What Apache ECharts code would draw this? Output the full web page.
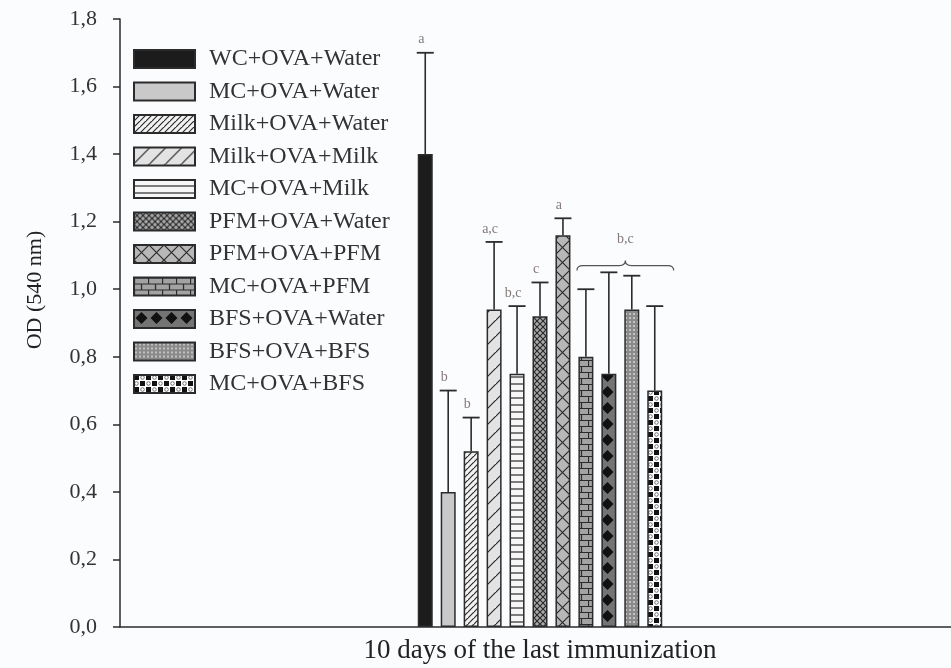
<!DOCTYPE html>
<html>

<head>
    <meta charset="utf-8">
    <title>OD 540 nm</title>
    <script src="https://cdn.jsdelivr.net/npm/echarts@6/dist/echarts.min.js"></script>
    <style>
        body { margin: 0; background: #fbfcfe; }
        #chart { width: 951px; height: 668px; }
    </style>
</head>

<body>
    <div id="chart"></div>

    <script type="text/javascript">
        // data
        var category = ['10 days of the last immunization'];
        var groups = ['WC+OVA+Water', 'MC+OVA+Water', 'Milk+OVA+Water', 'Milk+OVA+Milk', 'MC+OVA+Milk',
            'PFM+OVA+Water', 'PFM+OVA+PFM', 'MC+OVA+PFM', 'BFS+OVA+Water', 'BFS+OVA+BFS', 'MC+OVA+BFS'];
        var means = [1.40, 0.40, 0.52, 0.94, 0.75, 0.92, 1.16, 0.80, 0.75, 0.94, 0.70];
        var errTops = [1.70, 0.70, 0.62, 1.14, 0.95, 1.02, 1.21, 1.00, 1.05, 1.04, 0.95];
        var letters = ['a', 'b', 'b', 'a,c', 'b,c', 'c', 'a', '', '', '', ''];
        var brace = { from: 7, to: 10, value: 1.07, label: 'b,c' };
        var yTicks = { min: 0, max: 1.8, step: 0.2 };

        var BAR_W = 15;
        var GAP = 0.53;
        var PITCH = BAR_W * (1 + GAP);
        var SERIF = 'Liberation Serif';
        var INK = '#2b2b2b';
        var NOTE = '#857a7a';

        function tile(w, h, bg, draw) {
            var c = document.createElement('canvas');
            c.width = w; c.height = h;
            var ctx = c.getContext('2d');
            ctx.fillStyle = bg;
            ctx.fillRect(0, 0, w, h);
            ctx.strokeStyle = INK;
            ctx.fillStyle = INK;
            ctx.lineWidth = 1.2;
            if (draw) draw(ctx, w, h);
            return { image: c, repeat: 'repeat' };
        }

        function diag(ctx, w, h) {
            ctx.beginPath();
            ctx.moveTo(-1, h + 1); ctx.lineTo(w + 1, -1);
            ctx.moveTo(-w - 1, h + 1); ctx.lineTo(1, -1);
            ctx.moveTo(w - 1, 2 * h + 1); ctx.lineTo(2 * w + 1, h - 1);
            ctx.stroke();
        }
        function cross(ctx, w, h) {
            diag(ctx, w, h);
            ctx.beginPath();
            ctx.moveTo(-1, -1); ctx.lineTo(w + 1, h + 1);
            ctx.moveTo(-w - 1, -1); ctx.lineTo(1, h + 1);
            ctx.moveTo(w - 1, -1); ctx.lineTo(2 * w, h);
            ctx.stroke();
        }

        var fills = [
            '#1c1c1c',
            '#c9c9c9',
            tile(6, 6, '#f2f2f2', diag),
            tile(16, 16, '#e3e3e3', diag),
            tile(4, 7, '#f6f6f6', function (ctx) {
                ctx.beginPath(); ctx.moveTo(0, 6); ctx.lineTo(4, 6); ctx.stroke();
            }),
            tile(6, 6, '#a9a9a9', cross),
            tile(15, 15, '#b7b7b7', cross),
            tile(14, 12, '#a3a3a3', function (ctx) {
                ctx.beginPath();
                ctx.moveTo(0, 0.5); ctx.lineTo(14, 0.5);
                ctx.moveTo(0, 6.5); ctx.lineTo(14, 6.5);
                ctx.moveTo(0.5, 0); ctx.lineTo(0.5, 6);
                ctx.moveTo(7.5, 6); ctx.lineTo(7.5, 12);
                ctx.stroke();
            }),
            tile(15, 16, '#747474', function (ctx) {
                ctx.fillStyle = '#111';
                ctx.beginPath();
                ctx.moveTo(7.5, 2); ctx.lineTo(13.5, 8); ctx.lineTo(7.5, 14); ctx.lineTo(1.5, 8);
                ctx.closePath(); ctx.fill();
            }),
            tile(4, 4, '#8a8a8a', function (ctx) {
                ctx.fillStyle = '#cfcfcf';
                ctx.beginPath(); ctx.arc(2, 2, 1.1, 0, Math.PI * 2); ctx.fill();
            }),
            tile(12, 12, '#ffffff', function (ctx) {
                ctx.fillStyle = '#111';
                ctx.fillRect(0, 0, 5, 5);
                ctx.fillRect(6, 6, 5, 5);
                ctx.strokeStyle = '#555';
                ctx.lineWidth = 0.8;
                ctx.beginPath(); ctx.arc(8.5, 2.5, 1.8, 0, Math.PI * 2); ctx.stroke();
                ctx.beginPath(); ctx.arc(2.5, 8.5, 1.8, 0, Math.PI * 2); ctx.stroke();
            })
        ];

        var series = groups.map(function (name, i) {
            return {
                name: name,
                type: 'bar',
                data: [means[i]],
                barWidth: BAR_W,
                barGap: (GAP * 100) + '%',
                itemStyle: { color: fills[i], borderColor: INK, borderWidth: 1.5 },
                emphasis: { disabled: true },
                z: 2
            };
        });

        // error bars + letters
        series.push({
            type: 'custom',
            name: 'err',
            z: 3,
            data: groups.map(function (g, i) { return [0, means[i], errTops[i], i]; }),
            renderItem: function (params, api) {
                var i = api.value(3);
                var base = api.coord([0, api.value(1)]);
                var top = api.coord([0, api.value(2)]);
                var x = base[0] + (i - (groups.length - 1) / 2) * PITCH;
                var kids = [
                    { type: 'line', shape: { x1: x, y1: base[1], x2: x, y2: top[1] }, style: { stroke: INK, lineWidth: 1.6 } },
                    { type: 'line', shape: { x1: x - 8.5, y1: top[1], x2: x + 8.5, y2: top[1] }, style: { stroke: INK, lineWidth: 1.8 } }
                ];
                if (letters[i]) {
                    kids.push({
                        type: 'text',
                        style: {
                            text: letters[i], x: x - 4, y: top[1] - 6,
                            align: 'center', verticalAlign: 'bottom',
                            font: '14px "Liberation Serif"', fill: NOTE
                        }
                    });
                }
                return { type: 'group', children: kids };
            }
        });

        // brace over the last four groups
        series.push({
            type: 'custom',
            name: 'brace',
            z: 3,
            data: [[0, brace.value]],
            renderItem: function (params, api) {
                var p = api.coord([0, api.value(1)]);
                var mid0 = (groups.length - 1) / 2;
                var x1 = p[0] + (brace.from - mid0) * PITCH - 9;
                var x2 = p[0] + (brace.to - mid0) * PITCH + 19;
                var xm = (x1 + x2) / 2;
                var y = p[1];
                var path = 'M' + x1 + ',' + (y + 5) + ' Q' + x1 + ',' + y + ' ' + (x1 + 6) + ',' + y +
                    ' L' + (xm - 6) + ',' + y + ' Q' + xm + ',' + y + ' ' + xm + ',' + (y - 5) +
                    ' Q' + xm + ',' + y + ' ' + (xm + 6) + ',' + y +
                    ' L' + (x2 - 6) + ',' + y + ' Q' + x2 + ',' + y + ' ' + x2 + ',' + (y + 5);
                return {
                    type: 'group',
                    children: [
                        { type: 'path', shape: { pathData: path }, style: { stroke: '#555', lineWidth: 1.2, fill: null } },
                        {
                            type: 'text',
                            style: {
                                text: brace.label, x: xm, y: y - 26, align: 'center', verticalAlign: 'middle',
                                font: '14px "Liberation Serif"', fill: NOTE
                            }
                        }
                    ]
                };
            }
        });

        var myChart = echarts.init(document.getElementById('chart'), null, { renderer: 'canvas' });
        myChart.setOption({
            backgroundColor: '#fbfcfe',
            animation: false,
            grid: { left: 120, width: 840, top: 19, bottom: 41, outerBoundsMode: 'none' },
            legend: {
                data: groups,
                orient: 'vertical',
                left: 133,
                top: 47,
                padding: 0,
                icon: 'rect',
                itemWidth: 61,
                itemHeight: 18,
                itemGap: 8.5,
                selectedMode: false,
                textStyle: { fontFamily: SERIF, fontSize: 24, lineHeight: 18, color: '#333', padding: [0, 0, 0, 9] }
            },
            xAxis: {
                type: 'category',
                data: category,
                axisLine: { lineStyle: { color: INK, width: 1.5 } },
                axisTick: { alignWithLabel: true, length: 7, lineStyle: { color: INK, width: 1.5 } },
                axisLabel: { fontFamily: SERIF, fontSize: 27, color: '#222', margin: 10 }
            },
            yAxis: {
                type: 'value',
                min: yTicks.min,
                max: yTicks.max,
                interval: yTicks.step,
                name: 'OD (540 nm)',
                nameLocation: 'middle',
                nameGap: 74,
                nameTextStyle: { fontFamily: SERIF, fontSize: 22, color: '#222', padding: [0, 0, 0, 66] },
                splitLine: { show: false },
                axisLine: { show: true, lineStyle: { color: INK, width: 1.5 } },
                axisTick: { show: true, length: 7, lineStyle: { color: INK, width: 1.5 } },
                axisLabel: {
                    fontFamily: SERIF, fontSize: 22, color: '#333', margin: 23,
                    formatter: function (v) { return v.toFixed(1).replace('.', ','); }
                }
            },
            series: series
        });
    </script>
</body>

</html>
